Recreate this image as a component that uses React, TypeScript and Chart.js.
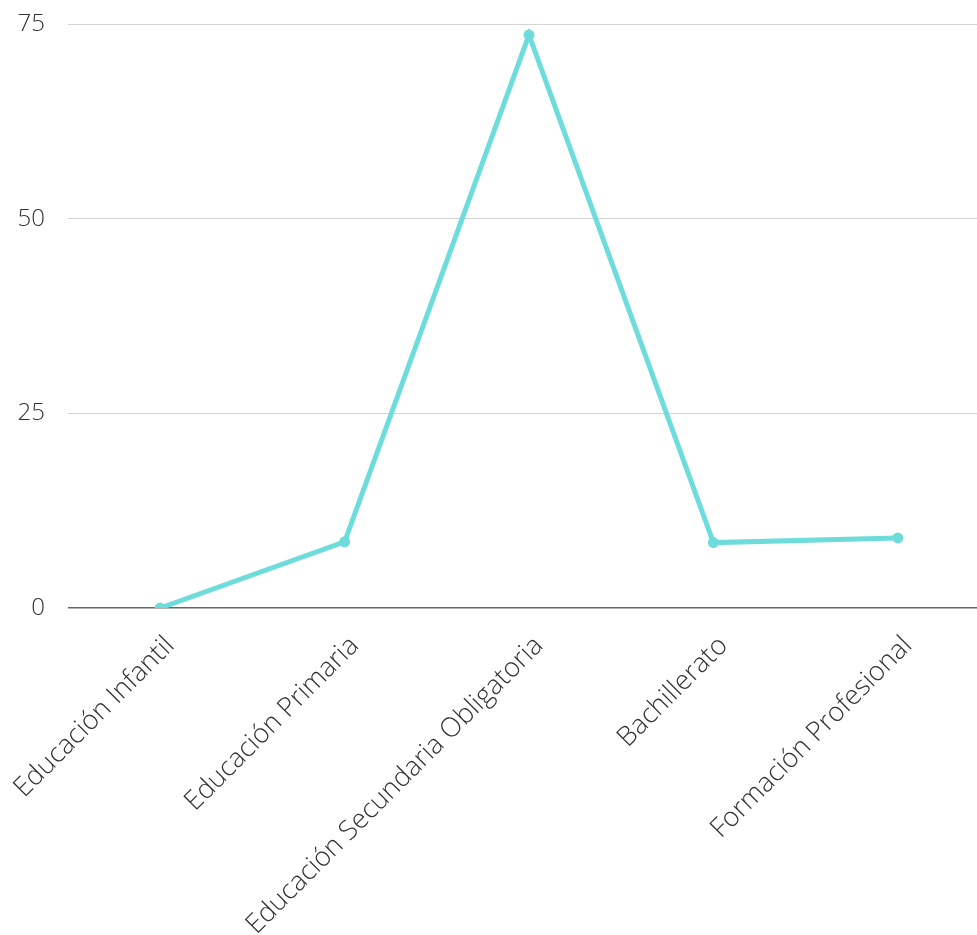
import React, { useEffect, useRef } from "react";
import { Chart, registerables } from "chart.js";

Chart.register(...registerables);

const categories: string[] = [
  "Educación Infantil",
  "Educación Primaria",
  "Educación Secundaria Obligatoria",
  "Bachillerato",
  "Formación Profesional",
];
const values: number[] = [0, 8.5, 73.6, 8.4, 9.0];
const yTicks: number[] = [0, 25, 50, 75];

const LINE_COLOR = "#6fdcdc";

function zeroPad(s: any) {
  s.paddingLeft = 0;
  s.paddingRight = 0;
  s.paddingTop = 0;
  s.paddingBottom = 0;
}

export default function App() {
  const ref = useRef<HTMLCanvasElement | null>(null);

  useEffect(() => {
    if (!ref.current) return;
    const chart = new Chart(ref.current, {
      type: "line",
      data: {
        labels: categories,
        datasets: [
          {
            data: values,
            borderColor: LINE_COLOR,
            backgroundColor: LINE_COLOR,
            borderWidth: 5,
            pointRadius: 5.5,
            pointHoverRadius: 5.5,
            pointBackgroundColor: LINE_COLOR,
            pointBorderWidth: 0,
            tension: 0,
            fill: false,
          },
        ],
      },
      options: {
        animation: false,
        responsive: true,
        maintainAspectRatio: false,
        layout: { autoPadding: false, padding: { top: 24, left: 0, right: 0, bottom: 0 } },
        plugins: { legend: { display: false }, tooltip: { enabled: false } },
        scales: {
          x: {
            offset: true,
            grid: { display: false, drawTicks: false },
            border: { display: false },
            ticks: {
              minRotation: 45,
              maxRotation: 45,
              autoSkip: false,
              padding: 22,
              labelOffset: 10,
              color: "#333",
              font: { family: "'Open Sans'", size: 27, weight: 300 as any },
            },
            afterFit: (s: any) => {
              s.height = 327;
              zeroPad(s);
            },
          },
          y: {
            min: 0,
            max: 75,
            afterBuildTicks: (s: any) => {
              s.ticks = yTicks.map((v) => ({ value: v }));
            },
            grid: {
              drawTicks: false,
              lineWidth: (c: any) => (c.tick && c.tick.value === 0 ? 1.5 : 1),
              color: (c: any) => (c.tick && c.tick.value === 0 ? "#666" : "#d4d4d4"),
            },
            border: { display: false },
            ticks: {
              padding: 23,
              color: "#333",
              font: { family: "'Open Sans'", size: 24, weight: 300 as any },
            },
            afterFit: (s: any) => {
              s.width = 68;
              zeroPad(s);
            },
          },
        },
      },
    });
    return () => chart.destroy();
  }, []);

  return (
    <div
      style={{
        position: "fixed",
        left: 0,
        top: 0,
        width: 977,
        height: 935,
        overflow: "hidden",
        background: "#fff",
      }}
    >
      <div style={{ position: "absolute", left: 0, top: 0, width: 990, height: 935 }}>
        <canvas ref={ref} />
      </div>
    </div>
  );
}
